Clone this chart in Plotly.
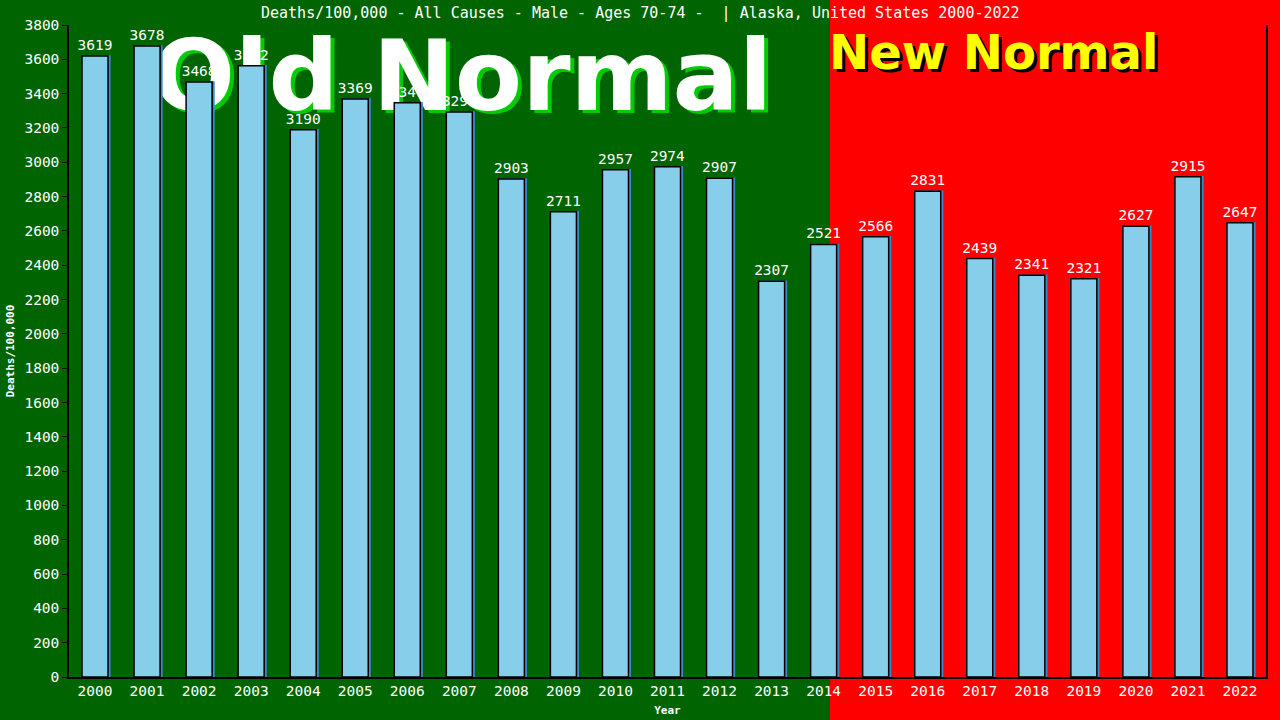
import plotly.graph_objects as go

years = [str(y) for y in range(2000, 2023)]
deaths = [3619, 3678, 3468, 3562, 3190, 3369, 3347, 3293, 2903, 2711, 2957, 2974,
          2907, 2307, 2521, 2566, 2831, 2439, 2341, 2321, 2627, 2915, 2647]
y_ticks = list(range(0, 3801, 200))

title_text = "Deaths/100,000 - All Causes - Male - Ages 70-74 -  | Alaska, United States 2000-2022"

W, H = 1280, 720
L, R, T, B = 69, 14, 25, 43
PW, PH = W - L - R, H - T - B


def px(x):
    return (x - L) / PW


def py(y):
    return (H - B - y) / PH


MONO = "DejaVu Sans Mono"
GREEN = "#006400"
RED = "#FF0000"

fig = go.Figure()
# shadow bars
fig.add_trace(go.Bar(
    x=years, y=deaths, width=0.5, offset=-0.215,
    marker=dict(color="#3f86c8", line=dict(color="#3f86c8", width=1.5)),
    hoverinfo="skip", showlegend=False,
))
# main bars
fig.add_trace(go.Bar(
    x=years, y=deaths, width=0.5, offset=-0.25,
    marker=dict(color="#87CEEB", line=dict(color="black", width=1.5)),
    text=[str(v) for v in deaths], textposition="outside", constraintext="none",
    textfont=dict(family=MONO, size=14.5, color="white"),
    cliponaxis=False, showlegend=False,
))

shapes = [
    dict(type="rect", xref="paper", yref="paper", x0=px(830), x1=2, y0=-1, y1=2,
         fillcolor=RED, line=dict(width=0), layer="below"),
]


def text_shape(cx, cy, text, size, color):
    return dict(type="rect", xref="paper", yref="paper",
                x0=px(cx - 400), x1=px(cx + 400), y0=py(cy + 60), y1=py(cy - 60),
                fillcolor="rgba(0,0,0,0)", line=dict(width=0), layer="below",
                label=dict(text=text, textposition="middle center",
                           font=dict(family="DejaVu Sans", size=size, color=color, weight="bold")))


shapes.append(text_shape(466, 72, "Old Normal", 98, "#00CC00"))
shapes.append(text_shape(462, 69, "Old Normal", 98, "white"))

annotations = [
    dict(text="New Normal", x=px(996), y=py(55), xref="paper", yref="paper",
         xanchor="center", yanchor="middle",
         showarrow=False, font=dict(family="DejaVu Sans", size=48, color="black", weight="bold")),
    dict(text="New Normal", x=px(993), y=py(52), xref="paper", yref="paper",
         xanchor="center", yanchor="middle",
         showarrow=False, font=dict(family="DejaVu Sans", size=48, color="#FFFF00", weight="bold")),
    dict(text=title_text, x=px(640), xref="paper", xanchor="center",
         y=py(13), yref="paper", yanchor="middle", showarrow=False,
         font=dict(family=MONO, size=15, color="white")),
]

fig.update_layout(
    width=W, height=H,
    margin=dict(l=L, r=R, t=T, b=B),
    paper_bgcolor=GREEN, plot_bgcolor="rgba(0,0,0,0)",
    shapes=shapes, annotations=annotations,
    barmode="overlay",
    xaxis=dict(type="category", range=[-0.5, 22.5], showline=True, linecolor="black",
               linewidth=1.5, ticks="", showgrid=False, zeroline=False, automargin=False,
               tickfont=dict(family=MONO, size=14.5, color="white"),
               title=dict(text="Year", font=dict(family=MONO, size=11, color="white", weight="bold"),
                          standoff=8)),
    yaxis=dict(range=[0, 3800], tickvals=y_ticks, showline=True, linecolor="black",
               linewidth=1.5, mirror=True, ticks="outside", ticklen=5, tickcolor="black",
               showgrid=False, zeroline=False, automargin=False,
               tickfont=dict(family=MONO, size=14.5, color="white"),
               title=dict(text="Deaths/100,000", font=dict(family=MONO, size=11, color="white", weight="bold"),
                          standoff=8)),
    font=dict(family=MONO, color="white"),
)

fig.write_html("out.html", config={"displayModeBar": False},
               post_script="document.body.style.margin='0px';")
